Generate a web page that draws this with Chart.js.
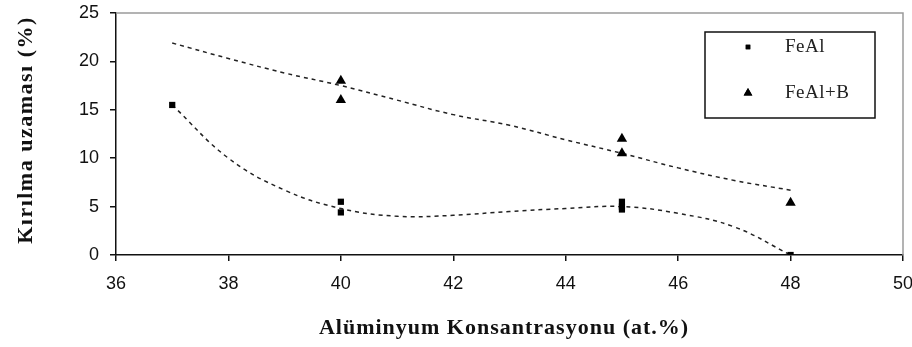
<!DOCTYPE html>
<html>
<head>
<meta charset="utf-8">
<script src="https://cdn.jsdelivr.net/npm/chart.js@4/dist/chart.umd.min.js"></script>
<style>
  html, body { margin: 0; padding: 0; background: #fff; }
  #wrap { width: 912px; height: 347px; }
</style>
</head>
<body>
<div id="wrap"><canvas id="chart" width="912" height="347"></canvas></div>
<script>
// ── Data ──────────────────────────────────────────────────────
const feAlX   = [37, 40, 40, 45, 45, 45, 48];
const feAlY   = [15.5, 5.5, 4.4, 5.5, 5.0, 4.7, 0];
const feAlBX  = [40, 40, 45, 45, 48];
const feAlBY  = [18, 16, 12, 10.5, 5.4];

// dashed trend curves
const trendX      = [37, 38, 39, 40, 41, 42, 43, 44, 45, 46, 47, 48];
const trendFeAl   = [15.5, 10.0, 6.7, 4.8, 4.0, 4.1, 4.5, 4.8, 5.0, 4.3, 2.9, 0];
const trendFeAlB  = [21.9, 20.3, 18.8, 17.5, 16.0, 14.5, 13.4, 11.9, 10.5, 9.0, 7.7, 6.7];

const xTickValues = [36, 38, 40, 42, 44, 46, 48, 50];
const yTickValues = [0, 5, 10, 15, 20, 25];
const seriesNames = ['FeAl', 'FeAl+B'];
const xTitle = 'Alüminyum Konsantrasyonu (at.%)';
const yTitle = 'Kırılma uzaması (%)';

const zip = (xs, ys) => xs.map((x, i) => ({ x, y: ys[i] }));

const SERIF = '"Liberation Serif", "Times New Roman", serif';

// ── Frame, legend box and axis titles ─────────────────────────
const decor = {
  id: 'decor',
  afterDraw(chart) {
    const { ctx, chartArea: a } = chart;
    ctx.save();
    // gray top / right border
    ctx.strokeStyle = '#9a9a9a';
    ctx.lineWidth = 1.5;
    ctx.beginPath();
    ctx.moveTo(a.left, a.top);
    ctx.lineTo(a.right, a.top);
    ctx.lineTo(a.right, a.bottom);
    ctx.stroke();

    // legend box
    ctx.strokeStyle = '#111';
    ctx.lineWidth = 1.5;
    ctx.fillStyle = '#fff';
    ctx.fillRect(705, 32, 170, 86);
    ctx.strokeRect(705, 32, 170, 86);
    const rows = [
      { ds: chart.data.datasets[0], y: 47, r: 3.2 },
      { ds: chart.data.datasets[1], y: 93, r: 5 },
    ];
    ctx.font = '19px ' + SERIF;
    ctx.letterSpacing = '0.5px';
    ctx.textBaseline = 'middle';
    ctx.textAlign = 'left';
    rows.forEach((row, i) => {
      ctx.fillStyle = '#000';
      Chart.helpers.drawPoint(ctx, {
        pointStyle: row.ds.pointStyle, radius: row.r, rotation: 0, borderWidth: 0,
      }, 748, row.y);
      ctx.fill();
      ctx.fillStyle = '#222';
      ctx.fillText(seriesNames[i], 785, row.y);
    });

    // axis titles, bold serif with wide spacing as in the reference
    ctx.font = 'bold 22px ' + SERIF;
    ctx.fillStyle = '#111';
    ctx.textAlign = 'center';
    ctx.letterSpacing = '1px';
    ctx.fillText(xTitle, 504, 328);

    ctx.translate(26, 130);
    ctx.rotate(-Math.PI / 2);
    ctx.letterSpacing = '1.5px';
    ctx.fillText(yTitle, 0, 0);
    ctx.restore();
  },
};

const tickFont = { family: '"Liberation Sans Narrow", "Liberation Sans", Arial, sans-serif', size: 18 };

new Chart(document.getElementById('chart'), {
  type: 'scatter',
  data: {
    datasets: [
      {
        label: seriesNames[0],
        data: zip(feAlX, feAlY),
        pointStyle: 'rect',
        pointRadius: 4.4,
        backgroundColor: '#000',
        borderColor: '#000',
        borderWidth: 0,
        order: 1,
      },
      {
        label: seriesNames[1],
        data: zip(feAlBX, feAlBY),
        pointStyle: 'triangle',
        pointRadius: 6,
        backgroundColor: '#000',
        borderColor: '#000',
        borderWidth: 0,
        order: 1,
      },
      {
        label: 'trend FeAl',
        data: zip(trendX, trendFeAl),
        showLine: true,
        pointRadius: 0,
        borderColor: '#222',
        borderWidth: 1.5,
        borderDash: [4, 4],
        tension: 0.4,
        order: 2,
      },
      {
        label: 'trend FeAl+B',
        data: zip(trendX, trendFeAlB),
        showLine: true,
        pointRadius: 0,
        borderColor: '#222',
        borderWidth: 1.5,
        borderDash: [4, 4],
        tension: 0.4,
        order: 2,
      },
    ],
  },
  options: {
    responsive: false,
    animation: false,
    layout: { padding: { top: 13, right: 9, left: 0, bottom: 0 }, autoPadding: false },
    plugins: {
      legend: { display: false },
      tooltip: { enabled: false },
    },
    scales: {
      x: {
        type: 'linear',
        min: 36, max: 50,
        afterBuildTicks: s => { s.ticks = xTickValues.map(v => ({ value: v })); },
        afterFit: s => { s.height = 92; s.paddingLeft = 0; s.paddingRight = 0; },
        grid: { drawOnChartArea: false, tickLength: 6, color: '#111', lineWidth: 1.5 },
        border: { color: '#111', width: 1.5 },
        ticks: { font: tickFont, color: '#111', padding: 12, maxRotation: 0 },
      },
      y: {
        type: 'linear',
        min: 0, max: 25,
        afterBuildTicks: s => { s.ticks = yTickValues.map(v => ({ value: v })); },
        afterFit: s => { s.width = 116; s.paddingTop = 0; s.paddingBottom = 0; },
        grid: { drawOnChartArea: false, tickLength: 6, color: '#111', lineWidth: 1.5 },
        border: { color: '#111', width: 1.5 },
        ticks: { font: tickFont, color: '#111', padding: 11 },
      },
    },
  },
  plugins: [decor],
});
</script>
</body>
</html>
